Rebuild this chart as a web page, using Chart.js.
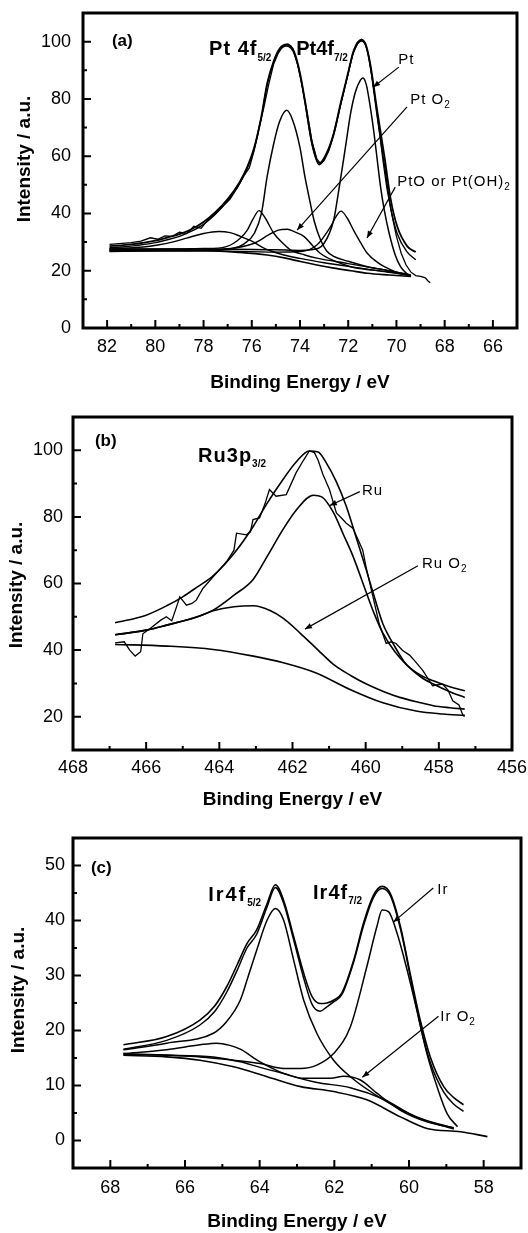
<!DOCTYPE html>
<html><head><meta charset="utf-8">
<script src="https://cdn.jsdelivr.net/npm/chart.js@4.4.1/dist/chart.umd.min.js"></script>
<style>
html,body{margin:0;padding:0;background:#fff;width:528px;height:1233px;overflow:hidden;}
canvas{position:absolute;left:0;}
</style></head><body>
<canvas id="ca" width="528" height="400" style="top:0px"></canvas>
<canvas id="cb" width="528" height="420" style="top:400px"></canvas>
<canvas id="cc" width="528" height="413" style="top:820px"></canvas>
<script>
const FONT = '"Liberation Sans", Arial, Helvetica, sans-serif';

// ---------- Panel (a): Pt 4f ----------
const aXTicks = [82,80,78,76,74,72,70,68,66];
const aXMinor = [81,79,77,75,73,71,69,67];
const aYTicks = [0,20,40,60,80,100];
const aYMinor = [10,30,50,70,90];

const aRawE = [81.9,81.5,81,80.6,80.2,79.9,79.6,79.3,79,78.7,78.4,78.1,77.8,77.5,77.2,76.9,76.6,76.3,76.1,75.9,75.7,75.5,75.3,75.1,74.9,74.7,74.5,74.3,74.1,73.9,73.7,73.5,73.3,73.15,73.0,72.8,72.6,72.4,72.2,72.0,71.8,71.6,71.45,71.3,71.15,71.0,70.85,70.7,70.55,70.4,70.2,70.0,69.8,69.6,69.4,69.2,69.0,68.8,68.7,68.6];
const aRawI = [29.2,29.5,29.8,30.3,31.5,31,32.2,32,33.5,33,35.5,34.8,38,40,42.5,45,49,53.5,56,62,70,77,85,92,96,98.5,99.2,97.5,92,84,75,65,59,57.5,58.5,62,68,75,82,89,96,99.5,100.8,99.5,95,87,78,68,58,49,40,32,26,22,19.5,18.3,18,17.5,16.5,15.8];
const aEnvE = [81.9,81,80,79.5,79,78.5,78,77.5,77,76.5,76.2,75.9,75.6,75.36,75.1,74.85,74.55,74.25,74.0,73.8,73.5,73.2,72.9,72.6,72.3,72.04,71.77,71.45,71.25,71.07,70.8,70.5,70.24,69.97,69.55,69.2];
const aEnv1I = [28.6,29.2,30.5,31.6,32.8,34.5,37,40.5,45,51,56,63,74,85.5,93,97.5,99,96.6,89,79.7,64.6,57.6,61,68,79,87.9,97,100.7,98.5,91.4,76,60,45,35.5,28.5,26.5];
const aEnv2I = [28.0,28.6,29.8,30.8,32,33.8,36.2,39.8,44.5,50.5,55.5,62.5,73.5,85,92.5,97,98.5,96,88.5,79,64,57,60.5,67.5,78.5,87.5,96.5,100.2,98,90.5,74,57,42,33,26.5,23.8];
const aPt52E = [81.9,79,77.5,76.74,76.3,75.9,75.6,75.36,75.1,74.85,74.55,74.3,74.0,73.8,73.6,73.4,73.15,72.9,72.6,72.0,71.2,70.5,69.8,69.4];
const aPt52I = [27.2,27.2,27.4,27.9,29.5,33,40,53,64,72,76,72.5,63,53,44.7,37,30.8,27,25,23.3,21.4,20.3,19.2,18.5];
const aPt72E = [81.9,78,75,74,73.56,73.0,72.6,72.45,72.3,72.1,71.9,71.7,71.5,71.39,71.25,71.1,70.93,70.8,70.66,70.5,70.3,70.05,69.83,69.6,69.4];
const aPt72I = [27.6,27.6,27.3,27.1,27.3,29.6,37.8,45,53,64,75,82.5,86.5,87.3,85,78,68,59,49.4,41,33,25.5,21.4,19.2,18];
const aPtO52E = [81.9,79,78,77.4,76.75,76.2,75.95,75.7,75.45,75.08,74.7,74.4,73.8,73.3,72,71,70,69.4];
const aPtO52I = [27.5,27.6,27.8,27.9,29.6,34,38,41,38.5,33,29.5,27.3,25.5,24.4,22.5,21,19.5,18.3];
const aPtO72E = [81.9,78,75,73.98,73.3,72.73,72.5,72.3,72.05,71.77,71.5,71.2,70.8,70.5,70,69.55];
const aPtO72I = [27,27,26.5,26.7,29,35.4,39,40.8,38.5,34,30,26,23,21.4,19.5,18.5];
const aPtO2aE = [81.9,80.5,79.9,79.3,78.7,78.0,77.37,76.9,76.47,76.0,75.5,74.67,74,73,72,71,70,69.4];
const aPtO2aI = [27.7,28.3,29,30,31.4,33,33.7,33.3,32,30.3,27.9,25.5,24.3,22.8,21.5,20.3,19.2,18.3];
const aPtO2bE = [81.9,78,76.74,75.9,75.3,74.9,74.53,74.2,73.84,73.5,73.15,72.6,71.9,71,70.5,69.55];
const aPtO2bI = [27,27,27.9,29.6,32.5,34.2,34.5,33.5,32,29,26,23.5,21.4,20.2,19.7,18.5];
const aBgE = [81.9,80,78.1,76.5,75.36,74.6,73.98,73.3,72.6,71.9,71.2,70.3,69.4];
const aBgI = [26.7,27,27.1,26.4,25.5,24.4,23.2,22,20.9,20,19.1,18.5,18];

// ---------- Panel (b): Ru 3p ----------
const bXTicks = [468,466,464,462,460,458,456];
const bXMinor = [467,465,463,461,459,457];
const bYTicks = [20,40,60,80,100];
const bYMinor = [30,50,70,90];

const bRawE = [466.85,466.6,466.45,466.3,466.15,466.09,465.9,465.6,465.45,465.3,465.2,465.08,464.9,464.75,464.63,464.45,464.17,463.8,463.6,463.53,463.26,463.15,463.08,462.9,462.75,462.63,462.45,462.17,461.9,461.7,461.54,461.4,461.3,461.17,460.99,460.8,460.65,460.53,460.35,460.2,460.08,459.99,459.8,459.63,459.44,459.3,459.17,458.99,458.8,458.67,458.44,458.17,457.9,457.75,457.62,457.45,457.35,457.3];
const bRawI = [42.2,42.5,40,38.2,39.5,44.9,46.4,49,50,48.8,52,56,53.5,54,55,58.5,62,66.6,70,75.1,74.6,75.5,79.2,79.7,84,88.2,86.2,86.7,93.3,97,99.8,99.3,97,92.8,88.2,81.2,79.5,78.1,76.6,73,70,65,56,47.9,42,42.5,42,39.9,38.5,36.9,33.9,29.3,29.8,28,24.8,23.5,20.7,20];
const bEnvE = [466.85,466,465.44,465,464.6,464.17,463.6,463.07,462.7,462.25,461.9,461.54,461.3,461.08,460.8,460.53,460.25,459.98,459.75,459.53,459.2,458.9,458.5,458.15,457.7,457.29];
const bEnvI = [48.2,50.5,53.3,56,59,62.3,69,77.2,84,91.4,96.5,99.8,99.5,96.3,90.5,83.2,73.5,64,55.5,47.9,41,35.8,32.5,30.8,29,27.8];
const bRuE = [466.85,466,465.44,464.6,464.17,463.6,463.07,462.7,462.25,461.9,461.43,461.2,460.89,460.6,460.35,459.98,459.75,459.53,459.2,458.9,458.5,458.15,457.7,457.29];
const bRuI = [44.6,46,47.5,50,52,56.5,61.3,68,76.4,82,86.5,86,81.5,74.5,68.3,57.2,50.5,45.1,39.5,35.8,32,29.8,27.5,25.8];
const bRuO2E = [466.85,466,465.44,464.6,464.17,463.6,463.07,462.6,462.25,461.8,461.3,460.89,460.4,459.98,459.5,459.07,458.5,458.15,457.7,457.29];
const bRuO2I = [44.6,46,47.5,50,51.8,53,53.3,51.8,49.5,45.2,40,35.8,32.3,29.8,27.5,25.8,24.2,23.3,22.7,22.3];
const bBgE = [466.85,465.44,464.17,463.07,462.25,461.37,460.43,459.53,458.62,457.9,457.29];
const bBgI = [41.7,41.2,40.2,38.2,36.2,33.2,28.2,24.2,21.7,20.8,20.4];

// ---------- Panel (c): Ir 4f ----------
const cXTicks = [68,66,64,62,60,58];
const cXMinor = [67,65,63,61,59];
const cYTicks = [0,10,20,30,40,50];
const cYMinor = [5,15,25,35,45];

const cEnvE = [67.65,66.49,65.6,65.2,64.88,64.6,64.34,64.08,63.8,63.58,63.36,63.09,62.82,62.6,62.38,62.2,62.02,61.8,61.48,61.22,60.95,60.72,60.5,60.23,59.97,59.7,59.43,59.07,58.8,58.54];
const cEnv1I = [17.4,18.9,21.9,24.5,28,32,35.8,38.3,43.1,46.5,43.7,37.1,30.4,26.2,24.9,25,25.5,26.8,32.8,39.5,44.6,46.2,44.9,38.9,30.4,21.9,15.2,9.8,7.8,6.5];
const cEnv2I = [16.6,18.2,21,23.5,27,31,35,37.5,42.5,46,43.2,36.5,29.5,24.8,23.5,24.3,25.2,26.5,32.5,39,44.2,45.8,44.5,38.5,30,21,14.2,8.8,6.6,5.3];
const cIr52E = [67.65,66.49,65.24,64.9,64.52,64.3,64.08,63.8,63.58,63.36,63.09,62.82,62.47,62.02,61.57,60.68,59.79,58.8];
const cIr52I = [16.5,17.7,19.5,21.5,25.5,30,34.6,40.1,42.2,40.1,32.8,25.5,19.5,14.6,11.6,7.4,4.3,2.2];
const cIr72E = [67.65,65.6,64.7,63.99,63.36,62.9,62.47,62.02,61.57,61.13,60.86,60.72,60.55,60.32,60.05,59.79,59.52,59.25,58.98,58.7];
const cIr72I = [15.8,15.2,14.6,14,13.1,13.1,13.7,15.8,20.7,31.6,38.9,41.9,41.6,37.7,31,23.7,15.8,9.8,4.9,2.5];
const cIrO2aE = [67.65,66.49,65.6,65.15,64.8,64.52,63.99,63.36,62.5,61.57,60.68,59.79,58.8];
const cIrO2aI = [15.8,16.5,17.4,17.7,17.3,16.6,14.3,12.2,10.6,9.6,7.5,4.2,2.1];
const cIrO2bE = [67.65,66.49,65.24,64.52,63.99,63.36,62.82,62.1,61.75,61.3,60.86,60.23,59.52,58.8];
const cIrO2bI = [15.6,15.5,15.2,14.3,13.3,12.2,11.3,11.3,11.7,11,8.6,5.5,3.4,2.3];
const cBgE = [67.65,66.49,65.6,64.7,63.8,62.9,62.02,61.13,60.23,59.52,58.62,57.9];
const cBgI = [15.5,15.2,14.6,13.4,11.6,9.8,8.9,7.4,4.3,2.2,1.6,0.7];

// ---------- drawing helpers ----------
const BIG = 'bold 20px ' + FONT, SUB = 'bold 10px ' + FONT, TAG = 'bold 17px ' + FONT;
const LAB = '15px ' + FONT, LSUB = '10px ' + FONT;

function drawRich(ctx, parts, x, y) {
  let cx = x;
  parts.forEach(p => {
    ctx.font = p[1];
    ctx.letterSpacing = (p[3] || 0) + 'px';
    ctx.fillText(p[0], cx, y + (p[2] || 0));
    cx += ctx.measureText(p[0]).width;
  });
  ctx.letterSpacing = '0px';
}

function decorPlugin(P) {
  return {
    id: 'decor',
    afterDraw(chart) {
      const {ctx, chartArea: ca, scales: {x, y}} = chart;
      ctx.save();
      ctx.strokeStyle = '#000'; ctx.fillStyle = '#000';
      ctx.lineWidth = 2;
      ctx.beginPath();
      const tk = (vals, len, axis) => vals.forEach(v => {
        if (axis === 'x') { const p = x.getPixelForValue(v); ctx.moveTo(p, ca.bottom); ctx.lineTo(p, ca.bottom - len); }
        else { const p = y.getPixelForValue(v); ctx.moveTo(ca.left, p); ctx.lineTo(ca.left + len, p); }
      });
      tk(P.xMajor, 8, 'x'); tk(P.xMinor, 4, 'x'); tk(P.yMajor, 8, 'y'); tk(P.yMinor, 4, 'y');
      ctx.stroke();
      ctx.lineWidth = 3;
      ctx.strokeRect(ca.left, ca.top, ca.right - ca.left, ca.bottom - ca.top);
      // arrows
      ctx.lineWidth = 1.2;
      P.arrows.forEach(a => {
        const x0 = x.getPixelForValue(a[0]), y0 = y.getPixelForValue(a[1]);
        const x1 = x.getPixelForValue(a[2]), y1 = y.getPixelForValue(a[3]);
        ctx.beginPath(); ctx.moveTo(x0, y0); ctx.lineTo(x1, y1); ctx.stroke();
        const ang = Math.atan2(y1 - y0, x1 - x0), L = 7, W = 2.8;
        ctx.beginPath();
        ctx.moveTo(x1, y1);
        ctx.lineTo(x1 - L * Math.cos(ang) + W * Math.sin(ang), y1 - L * Math.sin(ang) - W * Math.cos(ang));
        ctx.lineTo(x1 - L * Math.cos(ang) - W * Math.sin(ang), y1 - L * Math.sin(ang) + W * Math.cos(ang));
        ctx.closePath(); ctx.fill();
      });
      // labels
      ctx.textAlign = 'left'; ctx.textBaseline = 'middle';
      P.notes.forEach(n => drawRich(ctx, n.parts, x.getPixelForValue(n.e), y.getPixelForValue(n.i)));
      // y title
      ctx.font = 'bold 19px ' + FONT;
      ctx.textAlign = 'center';
      ctx.translate(P.yTitle[0], P.yTitle[1]);
      ctx.rotate(-Math.PI / 2);
      ctx.fillText('Intensity / a.u.', 0, 0);
      ctx.restore();
    }
  };
}

function series(E, I, w, raw) { return {E, I, w, raw}; }

function makePanel(id, P) {
  const H = P.height;
  const datasets = P.series.map(s => ({
    data: s.E.map((e, k) => ({x: e, y: s.I[k]})),
    borderColor: '#000', borderWidth: s.w, pointRadius: 0, pointHoverRadius: 0, fill: false,
    cubicInterpolationMode: s.raw ? 'default' : 'monotone', tension: s.raw ? 0 : 0.4
  }));
  const tickFont = {family: FONT, size: 18};
  new Chart(document.getElementById(id), {
    type: 'line',
    data: {datasets},
    options: {
      responsive: false, animation: false, devicePixelRatio: 1, events: [],
      layout: {padding: {left: 0, top: P.frame.top, right: 528 - P.frame.right, bottom: 0}},
      plugins: {legend: {display: false}, tooltip: {enabled: false}},
      scales: {
        x: {
          type: 'linear', reverse: true, min: P.xRange[0], max: P.xRange[1],
          grid: {display: false, drawTicks: false}, border: {display: false},
          ticks: {font: tickFont, color: '#000', padding: P.xPad, maxRotation: 0, autoSkip: false},
          title: {display: true, text: 'Binding Energy / eV', color: '#000',
                  font: {family: FONT, size: 19, weight: 'bold'}, padding: {top: 0, bottom: P.xTitlePad}},
          afterBuildTicks: s => { s.ticks = P.xMajor.filter(v => v >= P.xRange[0] && v <= P.xRange[1]).map(v => ({value: v})); },
          afterFit: s => { s.height = H - P.frame.bottom; s.paddingLeft = 0; s.paddingRight = 0; }
        },
        y: {
          type: 'linear', min: P.yRange[0], max: P.yRange[1],
          grid: {display: false, drawTicks: false}, border: {display: false},
          ticks: {font: tickFont, color: '#000', padding: P.yPad, autoSkip: false},
          afterBuildTicks: s => { s.ticks = P.yMajor.map(v => ({value: v})); },
          afterFit: s => { s.width = P.frame.left; s.paddingTop = 0; s.paddingBottom = 0; }
        }
      }
    },
    plugins: [decorPlugin(P)]
  });
}

makePanel('ca', {
  height: 400, frame: {left: 83, top: 13, right: 517, bottom: 328},
  xRange: [65, 83], yRange: [0, 110], xPad: 8, yPad: 12, xTitlePad: 6, yTitle: [25, 159],
  xMajor: aXTicks, xMinor: aXMinor, yMajor: aYTicks, yMinor: aYMinor,
  series: [
    series(aBgE, aBgI, 1.6), series(aPtO2aE, aPtO2aI, 1.4), series(aPtO2bE, aPtO2bI, 1.4),
    series(aPtO52E, aPtO52I, 1.4), series(aPtO72E, aPtO72I, 1.4),
    series(aPt52E, aPt52I, 1.5), series(aPt72E, aPt72I, 1.5),
    series(aEnvE, aEnv2I, 1.4), series(aEnvE, aEnv1I, 1.8), series(aRawE, aRawI, 1.3, true)
  ],
  arrows: [[69.9, 91.1, 70.97, 84.1], [69.56, 77.2, 74.12, 34.2], [70.05, 49.2, 71.22, 31.4]],
  notes: [
    {e: 81.80, i: 100.2, parts: [['(a)', TAG]]},
    {e: 77.77, i: 97.1, parts: [['Pt 4f', BIG, 0, 1], ['5/2', SUB, 8]]},
    {e: 74.16, i: 97.1, parts: [['Pt4f', BIG], ['7/2', SUB, 8]]},
    {e: 69.93, i: 93.6, parts: [['Pt', LAB, 0, 1]]},
    {e: 69.43, i: 79.6, parts: [['Pt O', LAB, 0, 1], ['2', LSUB, 5]]},
    {e: 69.97, i: 51, parts: [['PtO or Pt(OH)', LAB, 0, 1], ['2', LSUB, 5]]}
  ]
});

makePanel('cb', {
  height: 420, frame: {left: 73, top: 17, right: 512, bottom: 350},
  xRange: [456, 468], yRange: [10, 110], xPad: 7, yPad: 10, xTitlePad: 9, yTitle: [17, 185],
  xMajor: bXTicks, xMinor: bXMinor, yMajor: bYTicks, yMinor: bYMinor,
  series: [
    series(bBgE, bBgI, 1.6), series(bRuO2E, bRuO2I, 1.6), series(bRuE, bRuI, 1.6),
    series(bEnvE, bEnvI, 1.6), series(bRawE, bRawI, 1.3, true)
  ],
  arrows: [[460.16, 87.6, 460.98, 83.4], [458.57, 65.3, 461.66, 46.3]],
  notes: [
    {e: 467.4, i: 102.7, parts: [['(b)', TAG]]},
    {e: 464.58, i: 98.2, parts: [['Ru3p', BIG, 0, 1], ['3/2', SUB, 8]]},
    {e: 460.10, i: 87.9, parts: [['Ru', LAB, 0, 1]]},
    {e: 458.46, i: 65.9, parts: [['Ru O', LAB, 0, 1], ['2', LSUB, 5]]}
  ]
});

makePanel('cc', {
  height: 413, frame: {left: 73, top: 18, right: 521, bottom: 348},
  xRange: [57, 69], yRange: [-5, 55], xPad: 9, yPad: 8, xTitlePad: 0, yTitle: [19, 170],
  xMajor: cXTicks, xMinor: cXMinor, yMajor: cYTicks, yMinor: cYMinor,
  series: [
    series(cBgE, cBgI, 1.6), series(cIrO2aE, cIrO2aI, 1.5), series(cIrO2bE, cIrO2bI, 1.5),
    series(cIr52E, cIr52I, 1.5), series(cIr72E, cIr72I, 1.5),
    series(cEnvE, cEnv2I, 1.5), series(cEnvE, cEnv1I, 1.6)
  ],
  arrows: [[59.35, 45.9, 60.42, 39.7], [59.21, 22.6, 61.25, 11.5]],
  notes: [
    {e: 68.52, i: 49.5, parts: [['(c)', TAG]]},
    {e: 65.38, i: 44.6, parts: [['Ir4f', BIG, 0, 2], ['5/2', SUB, 8]]},
    {e: 62.57, i: 45.0, parts: [['Ir4f', BIG, 0, 1], ['7/2', SUB, 8]]},
    {e: 59.24, i: 45.5, parts: [['Ir', LAB, 0, 1]]},
    {e: 59.16, i: 22.5, parts: [['Ir O', LAB, 0, 1], ['2', LSUB, 5]]}
  ]
});
</script>
</body></html>
